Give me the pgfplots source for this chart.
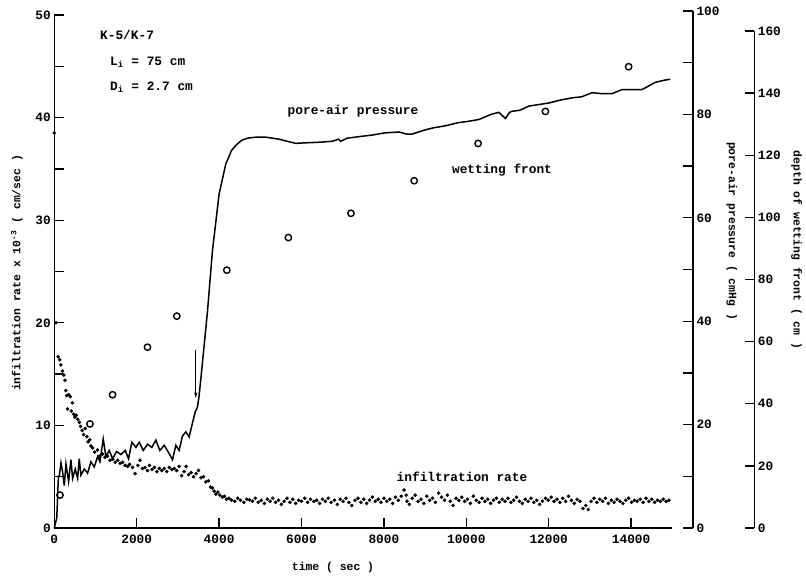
\documentclass[border=0pt]{standalone}
\usepackage{fontspec}
\setmainfont{Liberation Mono}
\usepackage{pgfplots}
\pgfplotsset{compat=1.18}
\usetikzlibrary{arrows.meta}
\pgfplotsset{/pgf/number format/assume math mode=true}
\newcommand{\tf}{\fontsize{12.8}{14}\selectfont\bfseries}
\newcommand{\lf}{\fontsize{11.4}{13}\selectfont\bfseries}
\begin{document}
\begin{tikzpicture}
% ---------------- main axis: infiltration rate ----------------
\begin{axis}[
  at={(0pt,0pt)}, anchor=south west,
  scale only axis, width=618pt, height=513pt,
  xmin=0, xmax=15000, ymin=0, ymax=50,
  axis x line*=bottom, axis y line*=left,
  axis line style={-, line width=1.3pt},
  xtick={0,2000,...,14000}, ytick={0,10,...,50}, minor ytick={5,15,...,45},
  tick align=inside, major tick length=10pt, minor tick length=10pt,
  every tick/.style={line width=1.3pt, black},
  scaled x ticks=false,
  xticklabel style={/pgf/number format/1000 sep={}, yshift=-3pt},
  tick label style={font=\tf},
  clip=false,
]
\addplot[only marks, mark=*, mark size=1.6pt, black] table {
t v
0 38.5
40 20.0
95 16.7
130 16.4
160 15.9
200 15.3
230 14.9
260 14.4
280 13.4
300 12.9
320 11.6
350 13.0
390 12.8
410 11.4
440 12.2
470 11.1
500 10.8
530 11.0
570 10.6
610 10.3
640 9.9
680 9.5
710 9.1
750 9.7
790 8.9
820 8.4
860 8.6
890 8.0
930 7.8
980 7.4
1050 7.6
1100 7.0
1170 7.2
1230 6.9
1290 7.0
1350 6.6
1420 6.7
1480 6.4
1540 6.6
1600 6.3
1660 6.4
1720 6.1
1780 6.0
1830 6.2
1900 5.9
1960 5.3
2030 6.1
2080 6.6
2140 5.8
2200 5.9
2260 5.6
2310 6.1
2370 5.7
2430 5.9
2490 5.5
2550 5.8
2610 5.6
2670 5.8
2730 5.5
2790 5.9
2850 5.7
2910 5.8
2970 5.6
3030 6.0
3090 5.1
3150 5.5
3200 6.0
3260 5.2
3320 5.4
3380 5.0
3440 5.3
3500 5.6
3560 4.9
3620 5.0
3680 4.5
3740 4.6
3790 4.0
3840 3.9
3880 3.6
3920 3.3
3970 3.5
4020 3.2
4080 3.0
4130 3.1
4180 2.8
4240 2.9
4300 2.7
4380 2.6
4450 2.9
4520 2.7
4600 2.5
4670 2.8
4740 2.75
4810 2.6
4880 2.9
4950 2.5
5020 2.7
5100 2.4
5170 2.8
5240 2.6
5300 2.9
5370 2.5
5440 2.7
5510 2.3
5580 2.6
5650 2.9
5720 2.5
5790 2.8
5860 2.4
5930 2.7
6000 2.6
6080 2.9
6150 2.5
6220 2.8
6300 2.6
6370 2.7
6440 2.4
6510 2.8
6580 2.6
6650 2.9
6720 2.5
6800 2.7
6870 2.3
6940 2.8
7010 2.6
7080 2.9
7150 2.5
7220 2.2
7300 2.7
7370 2.9
7440 2.5
7510 2.8
7580 2.4
7650 2.7
7720 3.0
7790 2.6
7860 2.8
7930 2.5
8000 2.9
8070 2.6
8140 2.8
8210 2.4
8280 3.0
8350 2.7
8420 3.1
8490 3.7
8540 3.2
8560 2.6
8620 2.3
8690 2.9
8760 3.2
8830 2.6
8900 2.8
8970 2.4
9040 3.1
9110 2.7
9180 2.9
9250 2.5
9330 3.4
9400 3.0
9470 2.7
9540 3.2
9610 2.6
9680 2.2
9750 2.9
9820 2.7
9890 3.0
9960 2.6
10030 2.8
10100 2.4
10170 3.1
10240 2.7
10310 2.5
10380 2.9
10450 2.6
10520 2.8
10590 2.4
10660 2.7
10730 2.9
10800 2.5
10870 2.8
10940 2.6
11010 2.9
11080 2.5
11150 2.7
11220 3.0
11290 2.6
11360 2.4
11430 2.8
11500 2.6
11570 2.9
11640 2.5
11710 2.7
11780 2.3
11850 2.6
11920 2.9
11990 2.7
12060 3.0
12130 2.6
12200 2.8
12270 2.5
12340 2.9
12410 2.6
12480 3.1
12550 2.7
12620 2.4
12690 2.8
12760 2.6
12830 1.9
12900 2.2
12960 1.8
13030 2.6
13100 2.9
13170 2.5
13240 2.8
13310 2.6
13380 2.9
13450 2.4
13520 2.7
13590 2.5
13660 2.8
13730 2.6
13800 2.4
13870 2.7
13940 2.9
14010 2.5
14080 2.7
14150 2.6
14220 2.8
14290 2.5
14360 2.9
14430 2.6
14500 2.8
14570 2.5
14640 2.7
14710 2.6
14780 2.8
14850 2.6
14920 2.7
};
\draw[line width=0.9pt, -{Latex[length=6pt,width=3.5pt]}] (axis cs:3434,17.3) -- (axis cs:3434,12.6);
\end{axis}
% ---------------- pore-air pressure axis ----------------
\begin{axis}[
  at={(0pt,0pt)}, anchor=south west,
  scale only axis, width=638.7pt, height=517pt,
  xmin=0, xmax=15502, ymin=0, ymax=100,
  axis x line=none, axis y line*=right,
  axis line style={-, line width=1.3pt},
  ytick={0,20,...,100}, minor ytick={10,30,...,90},
  tick align=inside, major tick length=10pt, minor tick length=10pt,
  every tick/.style={line width=1.3pt, black},
  tick label style={font=\tf},
  clip=false,
]
\addplot[line width=1.5pt, black] table {
t p
0 0
60 2
100 10
121 10.0
162 12.6
202 10.8
242 8.2
283 12.4
347 9.0
404 13.2
444 9.6
509 11.4
566 9.6
606 13.4
646 10.2
727 11.4
808 10.6
889 12.8
970 11.8
1051 13.8
1107 12.8
1188 17.2
1253 13.8
1333 15.0
1414 13.4
1511 14.8
1616 14.2
1721 15.0
1802 13.4
1883 16.6
1980 15.6
2061 16.6
2158 15.0
2263 16.2
2368 15.6
2465 17.0
2562 15.0
2667 16.0
2788 14.4
2869 13.2
2950 16.0
3030 15.0
3111 17.8
3192 18.6
3273 17.6
3338 19.8
3418 22.4
3475 23.4
3515 25.6
3596 32.0
3717 41.8
3838 53.6
4000 64.6
4162 70.4
4300 73.0
4404 74.0
4550 75.0
4687 75.4
4900 75.6
5130 75.6
5455 75.2
5650 74.8
5859 74.4
6100 74.5
6400 74.6
6747 74.8
6900 75.2
6950 74.8
7111 75.4
7400 75.7
7717 76.0
8000 76.4
8364 76.6
8550 76.2
8687 76.2
9000 77.0
9200 77.4
9495 77.8
9800 78.4
10000 78.6
10303 79.0
10600 80.0
10788 80.4
10950 79.2
11050 80.4
11111 80.6
11300 80.8
11515 81.6
12000 82.2
12300 82.8
12565 83.2
12800 83.4
13050 84.2
13300 84.0
13535 84.0
13778 84.8
14262 84.8
14450 85.6
14586 86.2
14800 86.6
14950 86.8
};
\end{axis}
% ---------------- depth of wetting front axis ----------------
\begin{axis}[
  at={(0pt,0pt)}, anchor=south west,
  scale only axis, width=700pt, height=497pt,
  xmin=0, xmax=16990, ymin=0, ymax=160,
  axis x line=none, axis y line*=right,
  axis line style={-, line width=1.3pt},
  ytick={0,20,...,160},
  tick align=inside, major tick length=9pt,
  every tick/.style={line width=1.3pt, black},
  tick label style={font=\tf},
  clip=false,
]
\addplot[only marks, mark=o, mark size=3.2pt, mark options={line width=1.4pt}, black] table {
t d
138 10.6
865 33.5
1414 42.9
2262 58.2
2974 68.2
4187 83.0
5681 93.5
7200 101.3
8735 111.8
10287 123.8
11920 134.1
13940 148.5
};
\end{axis}
% ---------------- labels ----------------
\node[rotate=90, font=\lf] at (-37.3pt,255pt) {infiltration rate  x 10\textsuperscript{-3}  ( cm/sec )};
\node[rotate=-90, font=\lf] at (677.4pt,297pt) {pore-air pressure ( cmHg )};
\node[rotate=-90, font=\lf] at (742.4pt,278pt) {depth of wetting front ( cm )};
\node[font=\lf] at (278.7pt,-40pt) {time ( sec )};
\node[anchor=west, font=\tf, inner sep=0pt] at (45.7pt,493pt) {K-5/K-7};
\node[anchor=west, font=\tf, inner sep=0pt] at (55.7pt,466pt) {L\textsubscript{i} = 75 cm};
\node[anchor=west, font=\tf, inner sep=0pt] at (55.7pt,441pt) {D\textsubscript{i} = 2.7 cm};
\node[font=\tf] at (298.7pt,417.3pt) {pore-air pressure};
\node[font=\tf] at (447.7pt,358pt) {wetting front};
\node[font=\tf] at (407.7pt,51pt) {infiltration rate};
\pgfresetboundingbox
\useasboundingbox (-54.3pt,-52pt) rectangle (751.7pt,528pt);
\end{tikzpicture}
\end{document}
